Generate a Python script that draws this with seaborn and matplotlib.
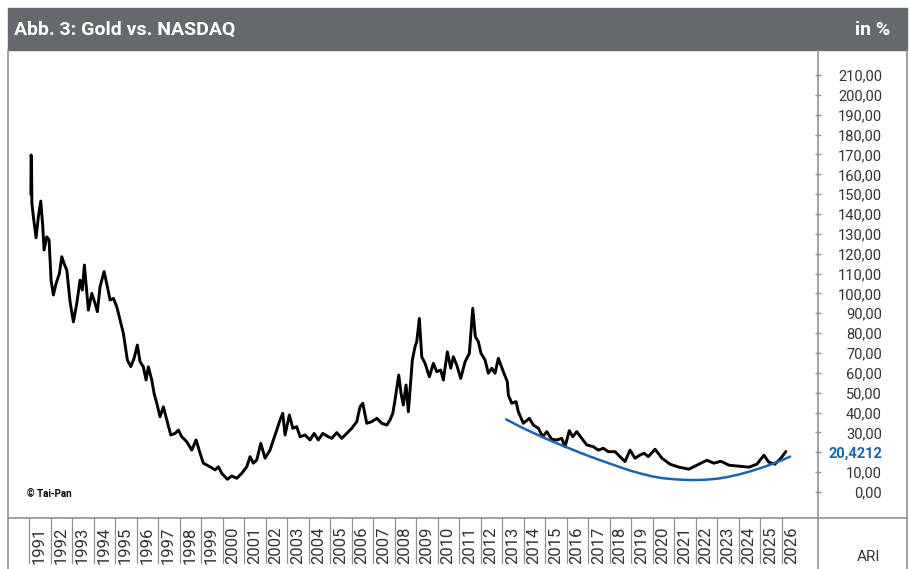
import numpy as np
import pandas as pd
import matplotlib
matplotlib.use("Agg")
import matplotlib.pyplot as plt
import seaborn as sns
from matplotlib.lines import Line2D
from matplotlib.patches import Rectangle
from matplotlib import transforms

# Gold / NASDAQ ratio in % (decimal years)
RATIO_YEARS = [
    1991.084, 1991.093, 1991.112, 1991.130, 1991.200, 1991.325, 1991.432, 1991.544,
    1991.637, 1991.697, 1991.823, 1991.930, 1992.023, 1992.130, 1992.255, 1992.409,
    1992.520, 1992.627, 1992.753, 1992.906, 1993.060, 1993.218, 1993.371, 1993.478,
    1993.571, 1993.757, 1993.915, 1994.068, 1994.175, 1994.301, 1994.487, 1994.640,
    1994.766, 1994.919, 1995.077, 1995.231, 1995.384, 1995.570, 1995.728, 1995.881,
    1996.035, 1996.160, 1996.314, 1996.439, 1996.546, 1996.704, 1996.811, 1996.937,
    1997.090, 1997.244, 1997.402, 1997.588, 1997.788, 1997.941, 1998.099, 1998.332,
    1998.564, 1998.764, 1998.950, 1999.103, 1999.415, 1999.647, 1999.801, 1999.959,
    2000.219, 2000.424, 2000.656, 2000.889, 2001.121, 2001.274, 2001.428, 2001.586,
    2001.772, 2001.972, 2002.204, 2002.358, 2002.543, 2002.669, 2002.794, 2002.901,
    2003.101, 2003.259, 2003.445, 2003.599, 2003.831, 2004.064, 2004.250, 2004.450,
    2004.654, 2004.914, 2005.072, 2005.305, 2005.537, 2005.770, 2006.002, 2006.235,
    2006.388, 2006.514, 2006.700, 2006.932, 2007.165, 2007.397, 2007.630, 2007.783,
    2007.909, 2008.015, 2008.094, 2008.187, 2008.294, 2008.401, 2008.527, 2008.634,
    2008.745, 2008.820, 2008.945, 2009.024, 2009.145, 2009.257, 2009.410, 2009.610,
    2009.796, 2009.954, 2010.140, 2010.261, 2010.447, 2010.605, 2010.726, 2010.884,
    2011.070, 2011.270, 2011.470, 2011.628, 2011.749, 2011.888, 2012.013, 2012.199,
    2012.353, 2012.511, 2012.664, 2012.818, 2013.050, 2013.236, 2013.283, 2013.441,
    2013.641, 2013.748, 2013.980, 2014.259, 2014.445, 2014.678, 2014.882, 2015.068,
    2015.300, 2015.533, 2015.765, 2015.919, 2016.118, 2016.277, 2016.463, 2016.695,
    2016.927, 2017.234, 2017.467, 2017.699, 2017.932, 2018.243, 2018.476, 2018.708,
    2018.941, 2019.173, 2019.406, 2019.592, 2019.791, 2020.103, 2020.428, 2020.800,
    2021.212, 2021.677, 2022.142, 2022.514, 2022.840, 2023.165, 2023.537, 2024.002,
    2024.467, 2024.839, 2025.164, 2025.397, 2025.676, 2025.955, 2026.188,
]
RATIO_VALUES = [
    150.0, 169.7, 168.0, 145.5, 138.6, 128.0, 138.6, 146.5,
    133.6, 121.9, 128.5, 126.9, 106.7, 99.2, 105.0, 110.0,
    118.5, 115.0, 111.8, 95.8, 85.7, 95.0, 106.7, 101.7,
    114.3, 91.6, 100.0, 95.0, 90.8, 103.4, 111.0, 103.4,
    96.7, 97.5, 93.3, 86.6, 79.9, 66.5, 63.1, 67.3,
    74.0, 65.6, 63.0, 56.4, 63.0, 56.4, 49.7, 44.7,
    37.9, 42.9, 36.3, 28.7, 29.5, 31.2, 27.8, 25.3,
    21.1, 26.2, 19.5, 14.5, 12.7, 11.1, 12.7, 9.4,
    6.4, 8.1, 6.9, 9.4, 12.7, 17.8, 14.5, 16.1,
    24.5, 17.0, 21.1, 26.2, 32.1, 36.3, 39.6, 28.7,
    38.8, 32.1, 32.9, 27.8, 28.7, 26.2, 29.5, 26.2,
    29.5, 27.8, 27.0, 29.9, 27.0, 29.5, 32.1, 35.4,
    42.9, 44.7, 34.6, 35.4, 37.1, 34.6, 33.7, 36.3,
    39.6, 46.3, 52.2, 58.9, 49.7, 43.8, 53.9, 40.4,
    56.4, 66.5, 73.2, 75.7, 87.4, 68.1, 64.8, 58.0,
    64.8, 60.6, 61.4, 56.4, 70.6, 62.3, 68.1, 63.9,
    57.2, 65.6, 69.8, 92.5, 78.2, 75.7, 69.8, 66.5,
    59.8, 62.3, 59.8, 67.3, 60.6, 55.5, 48.8, 44.7,
    45.5, 40.4, 34.6, 37.1, 33.7, 32.1, 27.8, 30.4,
    26.5, 26.2, 27.0, 22.8, 30.9, 27.8, 30.4, 27.0,
    23.7, 22.8, 21.1, 22.0, 20.3, 20.3, 17.8, 15.3,
    21.1, 17.0, 18.6, 19.5, 17.8, 21.5, 17.0, 14.0,
    12.5, 11.5, 14.0, 16.0, 14.5, 15.5, 13.5, 13.0,
    12.5, 14.0, 18.5, 15.0, 14.0, 17.0, 20.4,
]

# blue trend curve
TREND_YEARS = [2013.18, 2013.6, 2014.0, 2014.5, 2015.0, 2015.5, 2016.0, 2016.5,
               2017.0, 2017.5, 2018.0, 2018.5, 2019.0, 2019.5, 2020.0, 2020.5,
               2021.0, 2021.5, 2022.0, 2022.5, 2023.0, 2023.5, 2024.0, 2024.5,
               2025.0, 2025.5, 2026.0, 2026.38]
TREND_VALUES = [36.6, 34.2, 32.0, 29.5, 27.0, 24.7, 22.5, 20.3,
                18.2, 16.2, 14.3, 12.4, 10.6, 9.1, 7.8, 6.9,
                6.4, 6.1, 6.0, 6.2, 6.7, 7.6, 8.8, 10.3,
                12.0, 13.9, 16.0, 17.8]

LAST_VALUE = 20.4212
YEARS = list(range(1991, 2027))
Y_TICKS = list(range(0, 220, 10))

TITLE = "Abb. 3: Gold vs. NASDAQ"
UNIT = "in %"

W, H = 909, 569
BAR_GREY = "#646a6c"
FRAME = "#8e9294"
BLUE = "#1a64b0"
TEXT = "#333333"


def fx(px):
    return px / W


def fy(py):
    return 1 - py / H


sns.set_theme(style="white")
plt.rcParams["font.family"] = ["Roboto", "DejaVu Sans"]

fig = plt.figure(figsize=(W / 100, H / 100), dpi=100)
ax = fig.add_axes([fx(8), fy(518), fx(818) - fx(8), (518 - 50) / H])

df = pd.DataFrame({"year": RATIO_YEARS, "ratio": RATIO_VALUES})
trend = pd.DataFrame({"year": TREND_YEARS, "value": TREND_VALUES})
sns.lineplot(data=df, x="year", y="ratio", sort=False, estimator=None,
             color="black", linewidth=2.1, ax=ax)
sns.lineplot(data=trend, x="year", y="value", sort=False, estimator=None,
             color=BLUE, linewidth=1.8, ax=ax)

ax.set_xlim(1990.02, 2027.68)
ax.set_ylim(-13.1, 222.6)
ax.set_xlabel("")
ax.set_ylabel("")
for s in ax.spines.values():
    s.set_visible(False)

# y axis on the right with comma decimals
ax.yaxis.tick_right()
ax.set_yticks(Y_TICKS)
labels = [f"{v:.2f}".replace(".", ",") for v in Y_TICKS]
labels[2] = f"{LAST_VALUE:.4f}".replace(".", ",")
ax.set_yticklabels(labels)
ax.tick_params(axis="y", which="both", right=True, direction="inout",
               length=5, width=1, color=FRAME, pad=43.5, labelsize=10.5,
               labelcolor=TEXT)
for t in ax.get_yticklabels():
    t.set_horizontalalignment("right")
hl = ax.get_yticklabels()[2]
hl.set_color(BLUE)
hl.set_fontweight("bold")

# x axis: year cells below the plot
ax.set_xticks([])
trans = transforms.blended_transform_factory(ax.transData, ax.transAxes)
ybot = -(563 - 518) / (518 - 50)
ytxt = -(564 - 518) / (518 - 50)
for yr in YEARS:
    ax.add_line(Line2D([yr, yr], [0, ybot], transform=trans, color=FRAME,
                       linewidth=0.9, clip_on=False))
    ax.text(yr + 0.47, ytxt, str(yr), transform=trans, rotation=90,
            ha="center", va="bottom", fontsize=12, color=TEXT,
            family=["Liberation Sans Narrow", "Roboto"])

# frame and title bar
fig.patches.append(Rectangle((fx(8), fy(50)), fx(907) - fx(8), (50 - 8) / H,
                             transform=fig.transFigure, color=BAR_GREY, zorder=0))
for xs, ys in [([8, 8], [50, 569]), ([907, 907], [50, 569]),
               ([818, 818], [50, 569]), ([8, 907], [518, 518])]:
    fig.add_artist(Line2D([fx(x) for x in xs], [fy(y) for y in ys],
                          color=FRAME, linewidth=1.2))

fig.text(fx(14), fy(30), TITLE, color="white", fontsize=14, fontweight="bold",
         ha="left", va="center")
fig.text(fx(890), fy(30), UNIT, color="white", fontsize=14, fontweight="bold",
         ha="right", va="center")
fig.text(fx(27), fy(494), "© Tai-Pan", color="black", fontsize=7,
         fontweight="bold", ha="left", va="center")
fig.text(fx(880), fy(557), "ARI", color=TEXT, fontsize=11, ha="right",
         va="center")

fig.savefig("out.png", dpi=100)
